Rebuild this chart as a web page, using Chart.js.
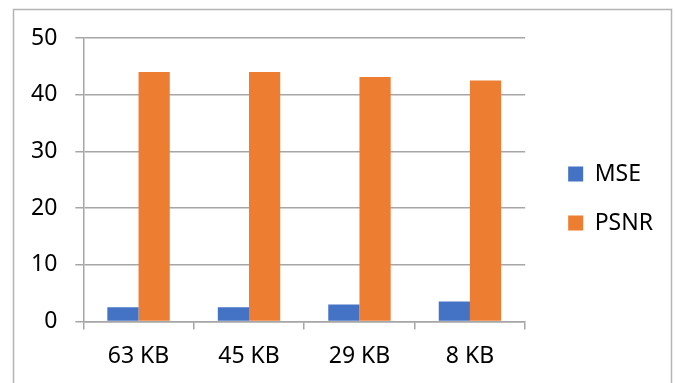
<!DOCTYPE html>
<html>
<head>
<meta charset="utf-8">
<script src="https://cdn.jsdelivr.net/npm/chart.js@4/dist/chart.umd.min.js"></script>
<style>
  html, body { margin: 0; padding: 0; background: #fff; }
  #wrap { position: relative; width: 675px; height: 383px; }
</style>
</head>
<body>
<div id="wrap"><canvas id="chart" width="675" height="383"></canvas></div>
<script>
// Данные графика
const categories = ['63 KB', '45 KB', '29 KB', '8 KB'];
const mseValues = [2.5, 2.5, 3.0, 3.5];
const psnrValues = [44.0, 44.0, 43.1, 42.5];
const yTicks = [0, 10, 20, 30, 40, 50];

const gridColor = '#a6a6a6';
const fontFamily = "'Noto Sans', 'Open Sans', sans-serif";

// рамка вокруг графика
const frame = {
    id: 'frame',
    beforeDraw(chart) {
        const ctx = chart.ctx;
        ctx.save();
        ctx.strokeStyle = '#b4b4b4';
        ctx.lineWidth = 1.5;
        ctx.strokeRect(13.5, 9.5, 658, 400);
        ctx.restore();
    }
};

// убираем лишние отступы под подписи, чтобы область графика была как в оригинале
function noPadding(scale) {
    scale.paddingLeft = 0;
    scale.paddingRight = 0;
    scale.paddingTop = 0;
    scale.paddingBottom = 0;
}

new Chart(document.getElementById('chart'), {
    type: 'bar',
    data: {
        labels: categories,
        datasets: [{
            label: 'MSE',
            data: mseValues,
            backgroundColor: '#4472C4',
            barPercentage: 1.0,
            categoryPercentage: 0.565
        }, {
            label: 'PSNR',
            data: psnrValues,
            backgroundColor: '#ED7D31',
            barPercentage: 1.0,
            categoryPercentage: 0.565
        }]
    },
    options: {
        responsive: false,
        animation: false,
        layout: {
            padding: { left: 13, top: 14, right: 12, bottom: 0 }
        },
        plugins: {
            legend: {
                position: 'right',
                align: 'center',
                maxWidth: 160,
                labels: {
                    boxWidth: 15,
                    boxHeight: 15,
                    padding: 26,
                    color: '#000',
                    font: { family: fontFamily, size: 23 }
                }
            },
            tooltip: { enabled: false }
        },
        scales: {
            x: {
                afterFit: noPadding,
                grid: {
                    offset: true,
                    drawOnChartArea: false,
                    drawTicks: true,
                    tickLength: 8,
                    color: gridColor,
                    lineWidth: 1.5
                },
                border: { color: gridColor, width: 1.5 },
                ticks: {
                    color: '#000',
                    padding: 13,
                    maxRotation: 0,
                    font: { family: fontFamily, size: 23 }
                }
            },
            y: {
                min: 0,
                max: 50,
                afterFit(scale) {
                    noPadding(scale);
                    // верх области графика ниже, чем верх легенды
                    scale.paddingTop = 38;
                },
                afterBuildTicks(scale) {
                    scale.ticks = yTicks.map(v => ({ value: v }));
                },
                grid: {
                    tickLength: 8,
                    color: gridColor,
                    lineWidth: 1.5
                },
                border: { color: gridColor, width: 1.5 },
                ticks: {
                    color: '#000',
                    padding: 18,
                    font: { family: fontFamily, size: 23 }
                }
            },
            // пустая ось справа — отступ между графиком и легендой
            gap: {
                position: 'right',
                display: true,
                grid: { display: false, drawTicks: false },
                border: { display: false },
                ticks: { display: false },
                afterFit(scale) {
                    noPadding(scale);
                    scale.width = 17;
                }
            }
        }
    },
    plugins: [frame]
});
</script>
</body>
</html>
